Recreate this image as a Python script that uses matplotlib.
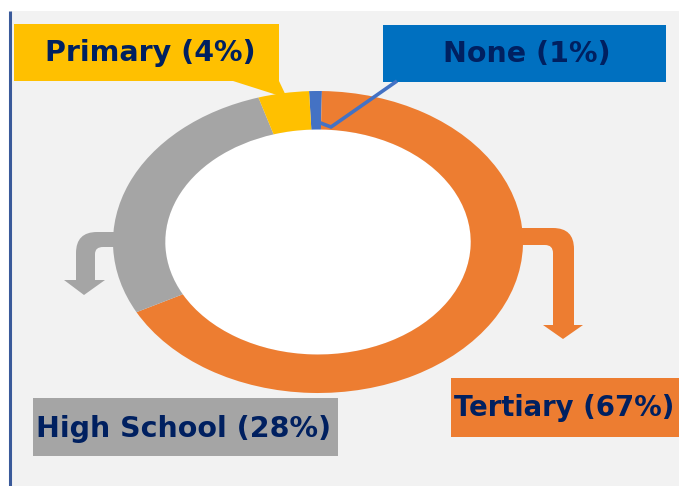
import matplotlib.pyplot as plt
import matplotlib.patches as mpatches
from matplotlib.path import Path

# data
labels = ['None', 'Tertiary', 'High School', 'Primary']
shares = [1, 67, 28, 4]
colors = ['#4472C4', '#ED7D31', '#A5A5A5', '#FFC000']
box_colors = ['#0070C0', '#ED7D31', '#A5A5A5', '#FFC000']
txt_color = '#002060'

W, H = 679, 486
fig = plt.figure(figsize=(W / 100, H / 100), dpi=100)

# background axes in pixel coords
bg = fig.add_axes([0, 0, 1, 1])
bg.set_xlim(0, W)
bg.set_ylim(H, 0)
bg.axis('off')
bg.add_patch(mpatches.Rectangle((11, 11), W - 11, H - 11, color='#F2F2F2', lw=0))
bg.plot([9.5, 9.5], [11, H], color='#3A5A9A', lw=2.2, solid_capstyle='butt')

# donut (elliptical)
cx, cy, rx, ry = 318, 242, 205, 151
ring = 0.255
pax = fig.add_axes([(cx - rx) / W, (H - cy - ry) / H, 2 * rx / W, 2 * ry / H])
pax.pie(shares, colors=colors, startangle=92.5, counterclock=False,
        wedgeprops=dict(width=ring, linewidth=0))
pax.add_patch(mpatches.Circle((0, 0), 1 - ring, color='white', lw=0, zorder=0))
pax.set_aspect('auto')
pax.set_xlim(-1, 1)
pax.set_ylim(-1, 1)
pax.axis('off')

# overlay for labels / arrows
ov = fig.add_axes([0, 0, 1, 1])
ov.set_xlim(0, W)
ov.set_ylim(H, 0)
ov.axis('off')
ov.patch.set_alpha(0)


def bent_arrow(pts, codes, color):
    ov.add_patch(mpatches.PathPatch(Path(pts, codes), facecolor=color, lw=0))


M, L, C, Z = Path.MOVETO, Path.LINETO, Path.CURVE3, Path.CLOSEPOLY
# gray arrow (High School)
bent_arrow([(120, 232), (97, 232), (76, 232), (76, 253), (76, 280), (64, 280),
            (84, 295), (105, 280), (95, 280), (95, 254), (95, 247), (103, 247),
            (120, 247), (120, 232)],
           [M, L, C, C, L, L, L, L, L, L, C, C, L, Z], colors[2])
# orange arrow (Tertiary)
bent_arrow([(515, 228), (553, 228), (574, 228), (574, 249), (574, 325), (583, 325),
            (563, 339), (543, 325), (553, 325), (553, 253), (553, 245), (545, 245),
            (515, 245), (515, 228)],
           [M, L, C, C, L, L, L, L, L, L, C, C, L, Z], colors[1])

# None leader line
ov.plot([397, 331, 318], [81, 127, 122], color=colors[0], lw=2.6,
        solid_joinstyle='round', solid_capstyle='butt')

# callout boxes
ov.add_patch(mpatches.Rectangle((14, 24), 265, 57, color=box_colors[3], lw=0))
ov.add_patch(mpatches.Polygon([(233, 81), (279, 81), (288, 100), (277, 95)],
                              closed=True, color=box_colors[3], lw=0))
ov.add_patch(mpatches.Rectangle((383, 25), 283, 57, color=box_colors[0], lw=0))
ov.add_patch(mpatches.Rectangle((451, 378), 228, 59, color=box_colors[1], lw=0))
ov.add_patch(mpatches.Rectangle((33, 398), 305, 58, color=box_colors[2], lw=0))

fp = dict(color=txt_color, fontweight='bold', family='DejaVu Sans', va='center')
ov.text(150, 53, f'{labels[3]} ({shares[3]}%)', ha='center', fontsize=20.5, **fp)
ov.text(527, 54, f'{labels[0]} ({shares[0]}%)', ha='center', fontsize=20.5, **fp)
ov.text(454, 408, f'{labels[1]} ({shares[1]}%)', ha='left', fontsize=19.8, **fp)
ov.text(36, 429, f'{labels[2]} ({shares[2]}%)', ha='left', fontsize=20.5, **fp)

fig.savefig('out.png', dpi=100)
